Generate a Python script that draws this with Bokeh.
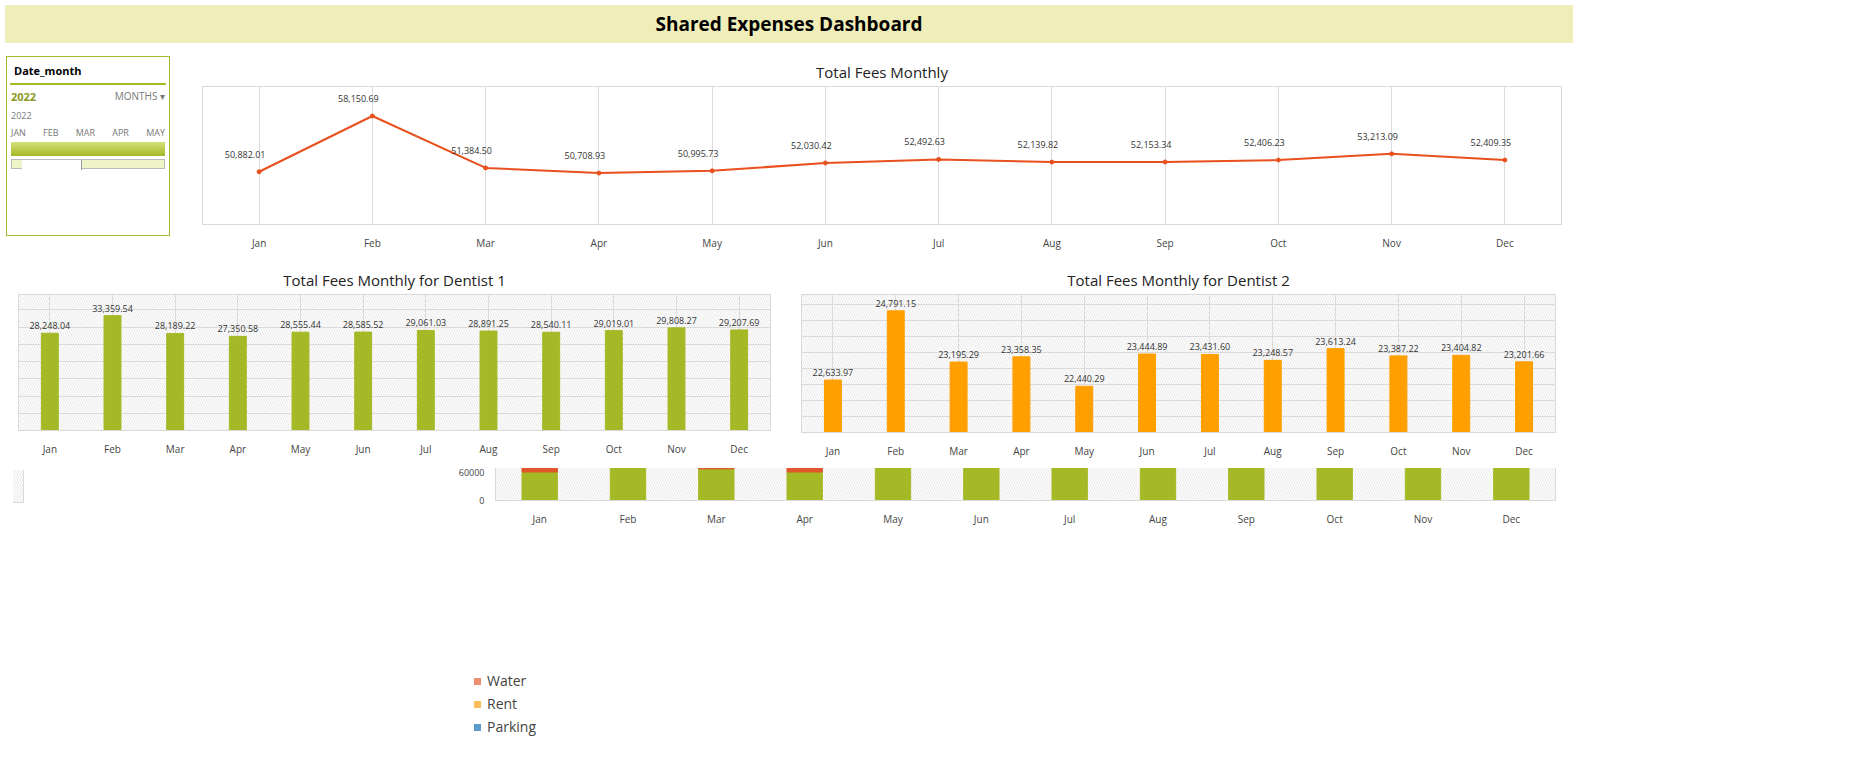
from bokeh.plotting import figure
from bokeh.layouts import column, row
from bokeh.models import Div, BoxAnnotation, ColumnDataSource, LabelSet, Legend, LegendItem, NumeralTickFormatter
from bokeh.core.properties import value
from bokeh.embed import file_html
from bokeh.resources import INLINE
from math import pi, cos, sin

months = ["Jan", "Feb", "Mar", "Apr", "May", "Jun", "Jul", "Aug", "Sep", "Oct", "Nov", "Dec"]
total_fees = [50882.01, 58150.69, 51384.50, 50708.93, 50995.73, 52030.42, 52492.63, 52139.82, 52153.34, 52406.23, 53213.09, 52409.35]
dentist1 = [28248.04, 33359.54, 28189.22, 27350.58, 28555.44, 28585.52, 29061.03, 28891.25, 28540.11, 29019.01, 29808.27, 29207.69]
dentist2 = [22633.97, 24791.15, 23195.29, 23358.35, 22440.29, 23444.89, 23431.60, 23248.57, 23613.24, 23387.22, 23404.82, 23201.66]
categories = ["Electric", "Water", "Rent", "Parking"]
cat_totals = [74508, 93704, 370755, 30000]
electric = [4500, 11000, 5000, 4500, 5500, 6000, 6200, 6000, 6200, 6200, 7000, 6800]
water = [8000, 8500, 7500, 8000, 7000, 7500, 7800, 7500, 7300, 7800, 8000, 7200]
rent = [30500, 31500, 31500, 30500, 31000, 31000, 31000, 31000, 31500, 31000, 30500, 31000]
parking = [2500] * 12

FONT = "Open Sans"
BORDER = "#d9d9d9"


def hatch(p):
    p.add_layout(BoxAnnotation(fill_alpha=0, line_alpha=0, hatch_pattern="\\", hatch_color="#d6d6d6",
                               hatch_scale=5, hatch_weight=0.6, level="underlay"))


def base(title, w, h, margin, **kw):
    p = figure(width=w, height=h, output_backend="svg", toolbar_location=None, margin=margin,
               title=title, **kw)
    p.title.align = "center"
    p.title.text_font = FONT
    p.title.text_font_style = "normal"
    p.title.text_font_size = "15px"
    p.title.text_color = "#222222"
    p.outline_line_color = BORDER
    p.border_fill_color = "white"
    p.min_border_left = 10
    p.min_border_right = 10
    p.xaxis.axis_line_color = BORDER
    p.xaxis.major_tick_line_color = None
    p.xaxis.minor_tick_line_color = None
    p.xaxis.major_label_text_font = FONT
    p.xaxis.major_label_text_font_size = "10px"
    p.grid.grid_line_color = "#dcdcdc"
    return p


def labels(src, **kw):
    return LabelSet(x="m", y="v", text="lab", source=src, text_align="center",
                    text_font=value(FONT), text_font_size="9px", text_color="#333333", **kw)


header = Div(text="<div style='width:1568px;font-family:Open Sans;font-weight:bold;font-size:19px;text-align:center;line-height:38px'>Shared Expenses Dashboard</div>",
             width=1568, height=38, styles={"background-color": "#f0eeb8"})

slicer_html = """
<div style='font-family:Open Sans;border:1px solid #a5b825;width:164px;height:180px;font-size:10px;color:#777'>
<div style='font-weight:bold;color:#000;font-size:11px;padding:6px 4px 4px 4px;border-bottom:2px solid #a5b825;margin:0 3px'>Date_month</div>
<div style='padding:4px 4px'><span style='color:#8a9a1c;font-weight:bold;font-size:11px'>2022</span><span style='float:right'>MONTHS &#9662;</span></div>
<div style='padding:2px 4px;font-size:9px'>2022</div>
<div style='display:flex;justify-content:space-between;padding:2px 4px;font-size:9px'><span>JAN</span><span>FEB</span><span>MAR</span><span>APR</span><span>MAY</span></div>
<div style='height:14px;background:linear-gradient(#d4e07a,#a5b825);margin:0 4px'></div>
<div style='height:10px;border:1px solid #bbb;margin:3px 4px;background:#eef3c8'><div style='width:60px;height:10px;background:white;border-right:1px solid #999;margin-left:10px'></div></div>
</div>"""
slicer = Div(text=slicer_html, width=172, height=190, margin=(8, 8, 0, 6))

# line chart
src = ColumnDataSource(dict(m=months, v=total_fees, lab=[f"{v:,.2f}" for v in total_fees]))
p1 = base("Total Fees Monthly", 1379, 198, (6, 0, 0, 6), x_range=months, y_range=(44000, 62000))
p1.yaxis.visible = False
p1.ygrid.grid_line_color = None
p1.line("m", "v", source=src, color="#e8501e", line_width=2)
p1.scatter("m", "v", source=src, color="#e8501e", size=4)
p1.add_layout(labels(src, x_offset=-14, y_offset=14))

# dentist 1
s1 = ColumnDataSource(dict(m=months, v=dentist1, lab=[f"{v:,.2f}" for v in dentist1]))
p2 = base("Total Fees Monthly for Dentist 1", 772, 196, (10, 0, 0, 8), x_range=months, y_range=(0, 39500))
hatch(p2)
p2.yaxis.visible = False
p2.yaxis.ticker = list(range(0, 40000, 5000))
p2.vbar("m", top="v", source=s1, width=0.27, color="#a5b825")
p2.add_layout(labels(s1, y_offset=4))

# dentist 2
s2 = ColumnDataSource(dict(m=months, v=dentist2, lab=[f"{v:,.2f}" for v in dentist2]))
p3 = base("Total Fees Monthly for Dentist 2", 774, 198, (10, 0, 0, 11), x_range=months, y_range=(21000, 25300))
hatch(p3)
p3.yaxis.visible = False
p3.yaxis.ticker = list(range(21000, 25501, 500))
p3.vbar("m", top="v", source=s2, width=0.27, color="#ff9f00")
p3.add_layout(labels(s2, y_offset=4))

# pie
tot = sum(cat_totals)
starts, ends = [], []
a = pi / 2
for v in cat_totals:
    starts.append(a - v / tot * 2 * pi)
    ends.append(a)
    a -= v / tot * 2 * pi
mids = [(s + e) / 2 for s, e in zip(starts, ends)]
rads = [0.68, 0.75, 0.55, 1.12]
ps = ColumnDataSource(dict(cat=categories, s=starts, e=ends, col=["#cfe06a", "#ef8f72", "#ffbd5a", "#5b9ccc"],
                           lx=[r * cos(m) for r, m in zip(rads, mids)], ly=[r * sin(m) for r, m in zip(rads, mids)],
                           lab=[f"{v:,}" for v in cat_totals]))
p4 = base("Distribution of Total Fees", 430, 198, (10, 0, 0, 13), x_range=(-1.35, 1.5), y_range=(-1.15, 1.35))
hatch(p4)
p4.axis.visible = False
p4.grid.grid_line_color = None
p4.title.text_font_size = "14px"
w = p4.wedge(x=0, y=0, radius=1, start_angle="s", end_angle="e", color="col", line_color="white",
             line_width=1, source=ps)
p4.add_layout(LabelSet(x="lx", y="ly", text="lab", source=ps, text_align="center", text_baseline="middle",
                       text_font=value(FONT), text_font_size="10px", text_font_style="bold", text_color="white",
                       background_fill_color="black", border_line_color="black"))
leg = Legend(items=[LegendItem(label=c, renderers=[w], index=i) for i, c in enumerate(categories)],
             location="center", border_line_color=None, background_fill_alpha=0,
             label_text_font=FONT, label_text_font_size="14px", glyph_width=10, glyph_height=10, spacing=4)
p4.add_layout(leg, "right")

# stacked
sd = ColumnDataSource(dict(m=months, Electric=electric, Water=water, Rent=rent, Parking=parking))
p5 = base("Distribution of Fees per Month", 1110, 200, (8, 0, 0, 12), x_range=months, y_range=(0, 60000))
hatch(p5)
p5.yaxis.ticker = list(range(0, 60001, 10000))
p5.yaxis.formatter = NumeralTickFormatter(format="0")
p5.yaxis.axis_line_color = None
p5.yaxis.major_tick_line_color = None
p5.yaxis.minor_tick_line_color = None
p5.yaxis.major_label_text_font = FONT
p5.yaxis.major_label_text_font_size = "9px"
rs = p5.vbar_stack(categories, x="m", source=sd, width=0.4, color=["#a5b825", "#e0552a", "#ff9f00", "#3f8ab5"])
l5 = Legend(items=[LegendItem(label=c, renderers=[r]) for c, r in zip(categories, rs)], orientation="horizontal",
            border_line_color=None, label_text_font=FONT, label_text_font_size="9px",
            glyph_width=6, glyph_height=6, padding=2, label_height=10)
p5.add_layout(l5, "below")

p = column(header, row(slicer, p1), row(p2, p3), row(p4, p5))
open("out.html", "w").write(file_html(p, INLINE))
